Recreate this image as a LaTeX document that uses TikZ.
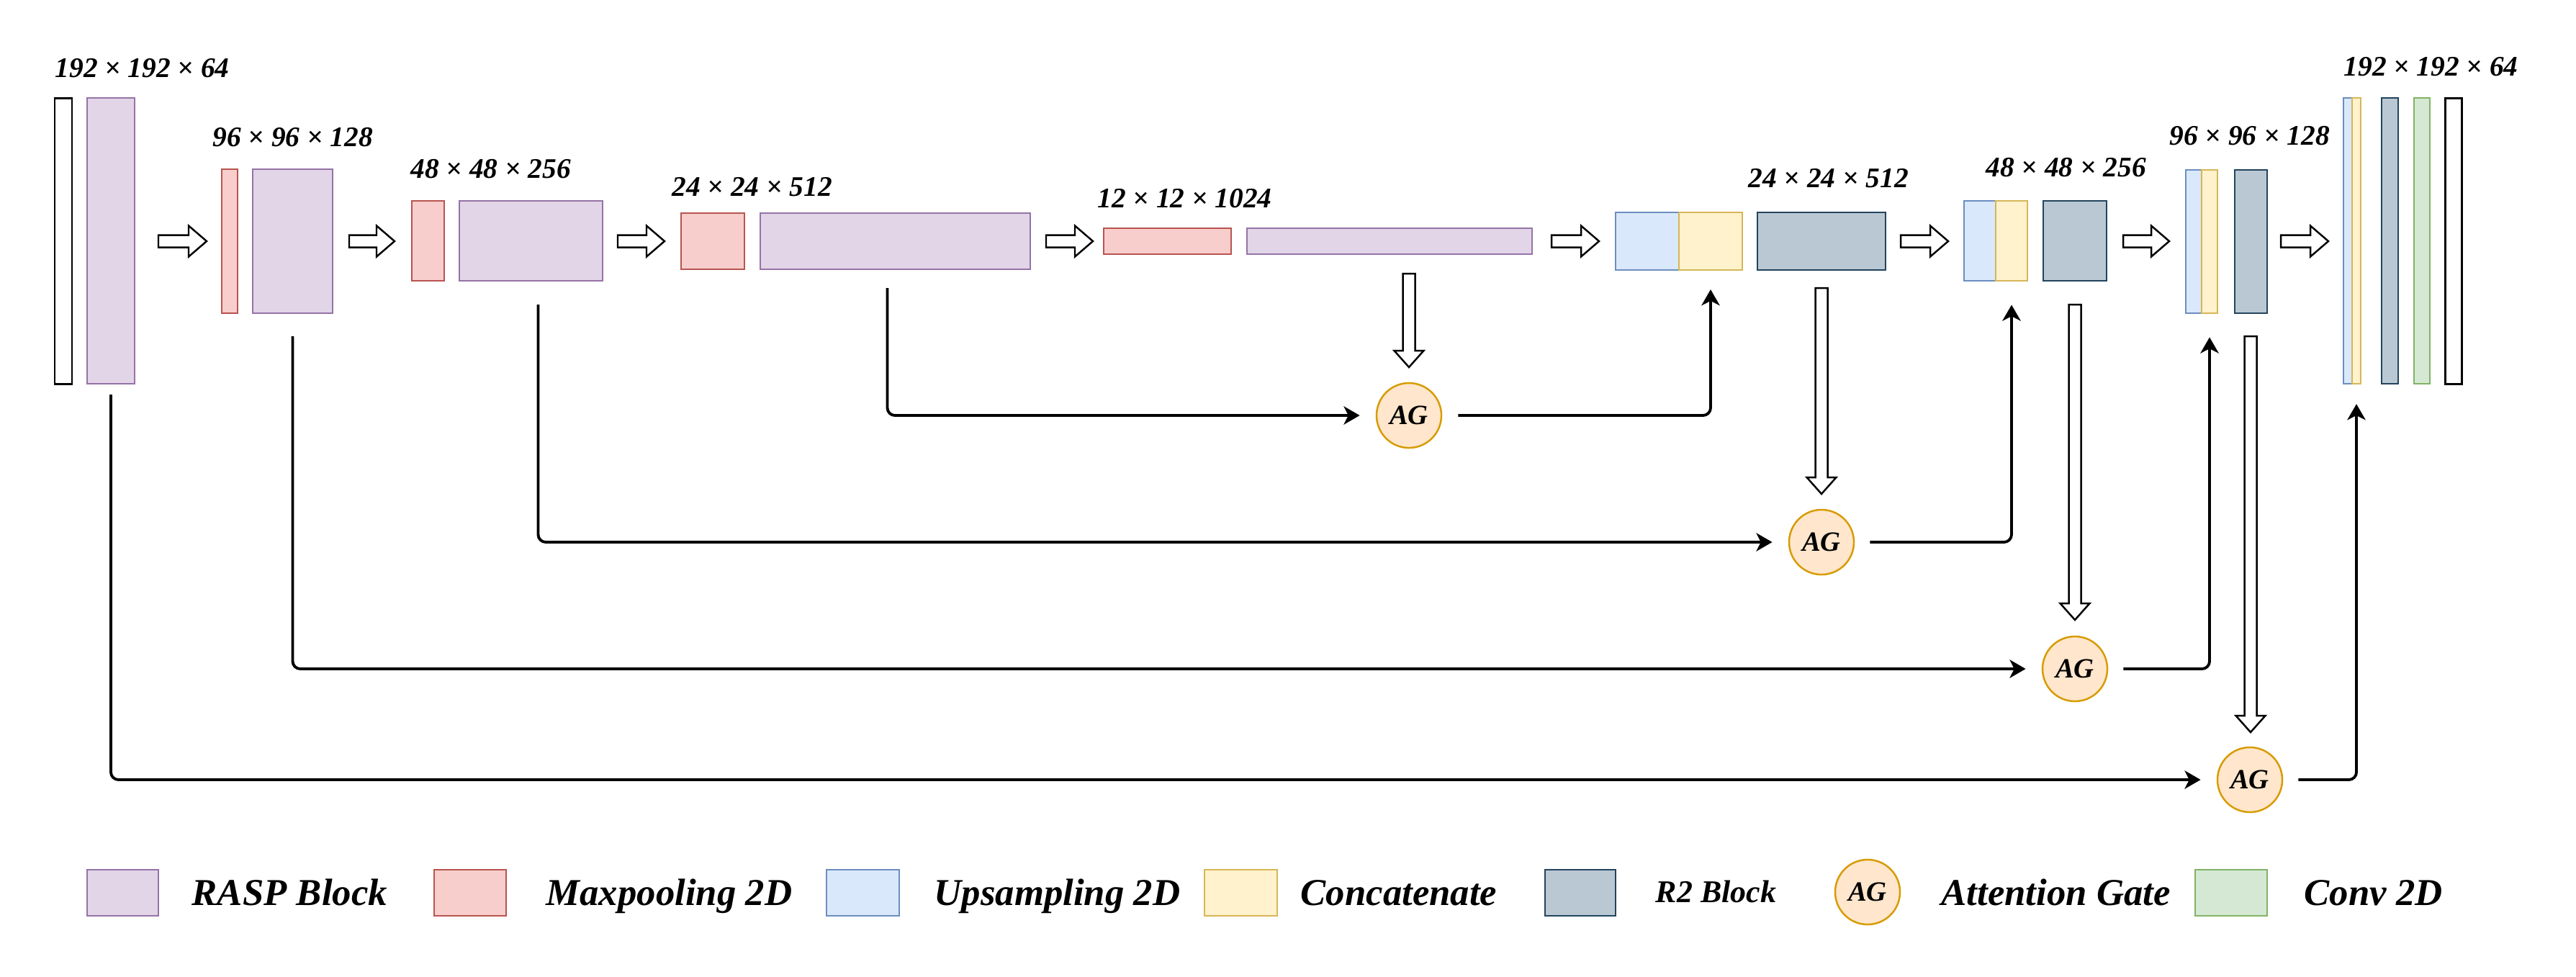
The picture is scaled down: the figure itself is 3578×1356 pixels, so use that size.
\documentclass[tikz,border=0pt]{standalone}
\usepackage{fontspec}
\setmainfont{Liberation Serif}
\usetikzlibrary{fit,calc,arrows.meta}
\definecolor{raspF}{HTML}{E1D5E7}\definecolor{raspD}{HTML}{9673A6}
\definecolor{mpF}{HTML}{F8CECC}\definecolor{mpD}{HTML}{B85450}
\definecolor{upF}{HTML}{DAE8FC}\definecolor{upD}{HTML}{6C8EBF}
\definecolor{ccF}{HTML}{FFF2CC}\definecolor{ccD}{HTML}{D6B656}
\definecolor{rtF}{HTML}{BAC8D3}\definecolor{rtD}{HTML}{23445D}
\definecolor{cvF}{HTML}{D5E8D4}\definecolor{cvD}{HTML}{82B366}
\definecolor{agF}{HTML}{FFE6CC}\definecolor{agD}{HTML}{D79B00}
\newcommand\hright[3]{\draw[hollow] (#1,#3-8.5) -- (#2-25,#3-8.5) -- (#2-25,#3-21.5) -- (#2,#3) -- (#2-25,#3+21.5) -- (#2-25,#3+8.5) -- (#1,#3+8.5) -- cycle;}
\newcommand\hdown[3]{\draw[hollow] (#1-8.5,#2) -- (#1+8.5,#2) -- (#1+8.5,#3-23) -- (#1+20.5,#3-23) -- (#1,#3) -- (#1-20.5,#3-23) -- (#1-8.5,#3-23) -- cycle;}
\begin{document}
\begin{tikzpicture}[x=0.01cm,y=-0.01cm,
  blk/.style={inner sep=0pt,outer sep=0pt,line width=0.6pt},
  inbox/.style={blk,fill=white,draw=black,line width=0.85pt},
  rasp/.style={blk,fill=raspF,draw=raspD},
  mp/.style={blk,fill=mpF,draw=mpD},
  up/.style={blk,fill=upF,draw=upD},
  cc/.style={blk,fill=ccF,draw=ccD},
  rt/.style={blk,fill=rtF,draw=rtD,line width=0.8pt},
  cv/.style={blk,fill=cvF,draw=cvD},
  ag/.style={circle,draw=agD,fill=agF,line width=0.7pt,minimum size=0.9cm,inner sep=0pt,font=\fontsize{11}{13}\selectfont\bfseries\itshape},
  dimlbl/.style={font=\fontsize{11.2}{13}\selectfont\bfseries\itshape,anchor=base west,inner sep=0pt},
  lgd/.style={font=\fontsize{15}{18}\selectfont\bfseries\itshape,anchor=base west,inner sep=0pt},
  conn/.style={line width=1.1pt,rounded corners=3pt,-{Stealth[length=6.3pt,width=7.2pt,inset=1.8pt]}},
  hollow/.style={draw=black,fill=white,line width=0.7pt,line join=miter}]
\useasboundingbox (0,0) rectangle (3578,1356);
% encoder
\node[inbox,fit={(76,136)(100,533)}] (in1) {};
\node[rasp,fit={(121,136)(187,533)}] (p1) {};
\node[mp,fit={(308,235)(330,435)}] (m2) {};
\node[rasp,fit={(351,235)(462,435)}] (p2) {};
\node[mp,fit={(572,279)(617,390)}] (m3) {};
\node[rasp,fit={(638,279)(837,390)}] (p3) {};
\node[mp,fit={(946,296)(1034,374)}] (m4) {};
\node[rasp,fit={(1056,296)(1431,374)}] (p4) {};
\node[mp,fit={(1533,317)(1710,353)}] (m5) {};
\node[rasp,fit={(1732,317)(2128,353)}] (p5) {};
% decoder
\node[up,fit={(2244,295)(2332,375)}] (u1) {};
\node[cc,fit={(2332,295)(2420,375)}] (c1) {};
\node[rt,fit={(2441,295)(2619,375)}] (r1) {};
\node[up,fit={(2728,279)(2772,390)}] (u2) {};
\node[cc,fit={(2772,279)(2816,390)}] (c2) {};
\node[rt,fit={(2838,279)(2926,390)}] (r2) {};
\node[up,fit={(3036,236)(3058,435)}] (u3) {};
\node[cc,fit={(3058,236)(3080,435)}] (c3) {};
\node[rt,fit={(3104,236)(3149,435)}] (r3) {};
\node[up,fit={(3255,136)(3267,533)}] (u4) {};
\node[cc,fit={(3267,136)(3279,533)}] (c4) {};
\node[rt,fit={(3308,136)(3331,533)}] (r4) {};
\node[cv,fit={(3353,136)(3375,533)}] (g1) {};
\node[inbox,fit={(3396,136)(3419,533)}] (out1) {};
% dimension labels
\node[dimlbl] (d1) at (76,107) {192 × 192 × 64};
\node[dimlbl] (d2) at (295,203) {96 × 96 × 128};
\node[dimlbl] (d3) at (570,247) {48 × 48 × 256};
\node[dimlbl] (d4) at (933,272) {24 × 24 × 512};
\node[dimlbl] (d5) at (1524,288) {12 × 12 × 1024};
\node[dimlbl] (d6) at (2428,260) {24 × 24 × 512};
\node[dimlbl] (d7) at (2758,245) {48 × 48 × 256};
\node[dimlbl] (d8) at (3013,201) {96 × 96 × 128};
\node[dimlbl] (d9) at (3255,105) {192 × 192 × 64};
% horizontal hollow arrows
\hright{220}{287}{335}
\hright{485}{548}{335}
\hright{858}{923}{335}
\hright{1453}{1518}{335}
\hright{2155}{2221}{335}
\hright{2640}{2706}{335}
\hright{2949}{3013}{335}
\hright{3168}{3234}{335}
% attention gates
\node[ag] (ag1) at (1957,577) {AG};
\node[ag] (ag2) at (2530,753) {AG};
\node[ag] (ag3) at (2882,929) {AG};
\node[ag] (ag4) at (3125,1083) {AG};
% vertical hollow arrows
\hdown{1957}{380}{510}
\hdown{2530}{400}{686}
\hdown{2882}{423}{861}
\hdown{3126}{467}{1017}
% skip connections
\draw[conn,shorten >=6.3pt] ($(p1.south)+(0,15)$) |- (ag4);
\draw[conn,shorten >=6.3pt] ($(p2.south)+(0,32)$) |- (ag3);
\draw[conn,shorten >=6.3pt] ($(p3.south)+(10,33)$) |- (ag2);
\draw[conn,shorten >=6.3pt] ($(p4.south)+(-11,26)$) |- (ag1);
% gate outputs
\draw[conn,shorten <=6.3pt,shorten >=7.7pt] (ag1) -| (c1.south);
\draw[conn,shorten <=6pt,shorten >=9.5pt] (ag2) -| (c2.south);
\draw[conn,shorten <=6pt,shorten >=9.5pt] (ag3) -| (c3.south);
\draw[conn,shorten <=6pt,shorten >=8pt] (ag4) -| (c4.south);
% legend
\node[rasp,fit={(121,1208)(220,1272)}] (lg1) {};
\node[lgd] (lt1) at (266,1257) {RASP Block};
\node[mp,fit={(603,1208)(703,1272)}] (lg2) {};
\node[lgd] (lt2) at (758,1257) {Maxpooling 2D};
\node[up,fit={(1148,1208)(1249,1272)}] (lg3) {};
\node[lgd] (lt3) at (1297,1257) {Upsampling 2D};
\node[cc,fit={(1673,1208)(1774,1272)}] (lg4) {};
\node[lgd] (lt4) at (1806,1257) {Concatenate};
\node[rt,fit={(2146,1208)(2244,1272)}] (lg5) {};
\node[lgd,font=\fontsize{12.5}{15}\selectfont\bfseries\itshape] (lt5) at (2299,1253) {R2 Block};
\node[ag] (lg6) at (2594,1239) {AG};
\node[lgd] (lt6) at (2696,1257) {Attention Gate};
\node[cv,fit={(3049,1208)(3149,1272)}] (lg7) {};
\node[lgd] (lt7) at (3200,1257) {Conv 2D};
\end{tikzpicture}
\end{document}
